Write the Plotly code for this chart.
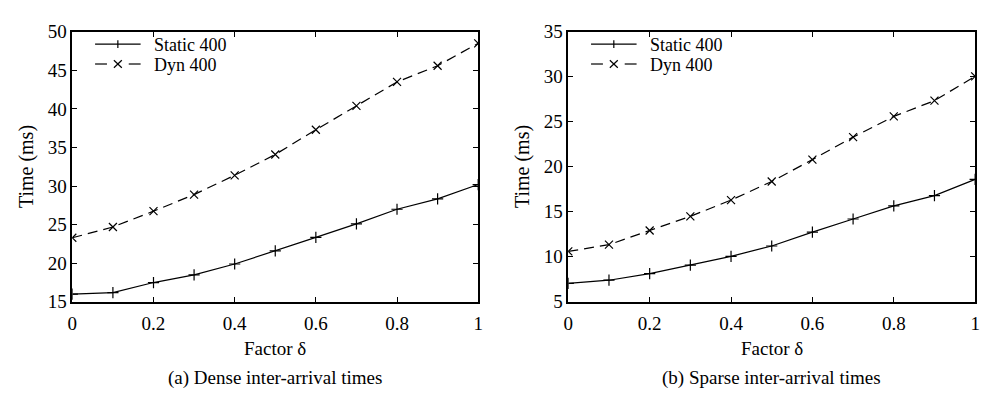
import plotly.graph_objects as go

factor = [0, 0.1, 0.2, 0.3, 0.4, 0.5, 0.6, 0.7, 0.8, 0.9, 1.0]

dense_static = [16.0, 16.2, 17.5, 18.5, 19.9, 21.6, 23.35, 25.1, 27.0, 28.35, 30.2]
dense_dyn = [23.3, 24.7, 26.75, 28.9, 31.4, 34.1, 37.3, 40.4, 43.5, 45.6, 48.5]

sparse_static = [7.05, 7.4, 8.13, 9.07, 10.05, 11.2, 12.75, 14.2, 15.66, 16.8, 18.6]
sparse_dyn = [10.6, 11.35, 12.93, 14.5, 16.3, 18.37, 20.8, 23.3, 25.6, 27.35, 30.05]

series_names = ["Static 400", "Dyn 400"]
x_ticks = [0, 0.2, 0.4, 0.6, 0.8, 1]
x_ticklabels = ["0", "0.2", "0.4", "0.6", "0.8", "1"]
dense_yticks = [15, 20, 25, 30, 35, 40, 45, 50]
sparse_yticks = [5, 10, 15, 20, 25, 30, 35]
x_title = "Factor δ"
y_title = "Time (ms)"
captions = ["(a) Dense inter-arrival times", "(b) Sparse inter-arrival times"]

FONT = "Liberation Serif"
FS = 19
W, H = 995, 400

fig = go.Figure()

def add_series(xa, ya, static, dyn):
    fig.add_trace(go.Scatter(
        x=factor, y=static, name=series_names[0], mode="lines+markers",
        xaxis=xa, yaxis=ya, showlegend=False,
        line=dict(color="black", width=1.2),
        marker=dict(symbol="cross-thin", size=8, line=dict(color="black", width=1.2)),
    ))
    fig.add_trace(go.Scatter(
        x=factor, y=dyn, name=series_names[1], mode="lines+markers",
        xaxis=xa, yaxis=ya, showlegend=False,
        line=dict(color="black", width=1.2, dash="10px,6px"),
        marker=dict(symbol="x-thin", size=8, line=dict(color="black", width=1.2)),
    ))

add_series("x", "y", dense_static, dense_dyn)
add_series("x2", "y2", sparse_static, sparse_dyn)

left = [68, 569]
right = [478, 980]
top, bottom = 23, 308
ydom = [1 - bottom / H, 1 - top / H]

axis_common = dict(
    showgrid=False, zeroline=False, showline=True, linecolor="black", linewidth=1.5,
    mirror="allticks", ticks="inside", ticklen=5, tickcolor="black", tickwidth=1,
    tickfont=dict(family=FONT, size=FS, color="black"),
)

fig.update_layout(
    xaxis=dict(domain=[left[0] / W, right[0] / W], range=[0, 1], tickvals=x_ticks,
               ticktext=x_ticklabels, anchor="y", ticklabelstandoff=4, **axis_common),
    yaxis=dict(domain=ydom, range=[15, 50], tickvals=dense_yticks, anchor="x", **axis_common),
    xaxis2=dict(domain=[left[1] / W, right[1] / W], range=[0, 1], tickvals=x_ticks,
                ticktext=x_ticklabels, anchor="y2", ticklabelstandoff=4, **axis_common),
    yaxis2=dict(domain=ydom, range=[5, 35], tickvals=sparse_yticks, anchor="x2", **axis_common),
)

# Manual legends (key samples drawn in paper coordinates)
shapes = []
annotations = []
ln = dict(color="black", width=1.2)

def px(x):
    return x / W

def py(y):
    return 1 - y / H

for i in range(2):
    x0 = left[i] + 23
    x1 = x0 + 46
    xm = (x0 + x1) / 2
    y_s, y_d = 36, 57
    # Static: solid line with +
    shapes.append(dict(type="line", xref="paper", yref="paper", x0=px(x0), x1=px(x1),
                       y0=py(y_s), y1=py(y_s), line=ln))
    shapes.append(dict(type="line", xref="paper", yref="paper", x0=px(xm), x1=px(xm),
                       y0=py(y_s - 4), y1=py(y_s + 4), line=ln))
    # Dyn: dashed line with x
    shapes.append(dict(type="line", xref="paper", yref="paper", x0=px(x0), x1=px(x0 + 12),
                       y0=py(y_d), y1=py(y_d), line=ln))
    shapes.append(dict(type="line", xref="paper", yref="paper", x0=px(x1 - 12), x1=px(x1),
                       y0=py(y_d), y1=py(y_d), line=ln))
    shapes.append(dict(type="line", xref="paper", yref="paper", x0=px(xm - 4), x1=px(xm + 4),
                       y0=py(y_d - 4), y1=py(y_d + 4), line=ln))
    shapes.append(dict(type="line", xref="paper", yref="paper", x0=px(xm - 4), x1=px(xm + 4),
                       y0=py(y_d + 4), y1=py(y_d - 4), line=ln))
    for name, yy in zip(series_names, [y_s, y_d]):
        annotations.append(dict(text=name, x=px(x1 + 13), y=py(yy + 1), xref="paper",
                                yref="paper", showarrow=False, xanchor="left",
                                yanchor="middle", borderpad=0,
                                font=dict(family=FONT, size=FS - 1, color="black")))

for i in range(2):
    cx = (left[i] + right[i]) / 2 / W
    annotations.append(dict(text=x_title, x=cx, y=1 - 357 / H, xref="paper", yref="paper",
                            showarrow=False, xanchor="center", yanchor="middle",
                            font=dict(family=FONT, size=FS, color="black")))
    annotations.append(dict(text=captions[i], x=cx, y=1 - 388 / H, xref="paper", yref="paper",
                            showarrow=False, xanchor="center", yanchor="middle",
                            font=dict(family=FONT, size=FS, color="black")))
    annotations.append(dict(text=y_title, x=(left[i] - 46) / W, y=1 - 165 / H, xref="paper",
                            yref="paper", showarrow=False, textangle=-90,
                            xanchor="center", yanchor="middle",
                            font=dict(family=FONT, size=FS + 1, color="black")))

fig.update_layout(
    shapes=shapes,
    annotations=annotations,
    font=dict(family=FONT, size=FS, color="black"),
    width=W, height=H, margin=dict(l=0, r=0, t=0, b=0),
    paper_bgcolor="white", plot_bgcolor="white",
)

fig.write_html("out.html")
